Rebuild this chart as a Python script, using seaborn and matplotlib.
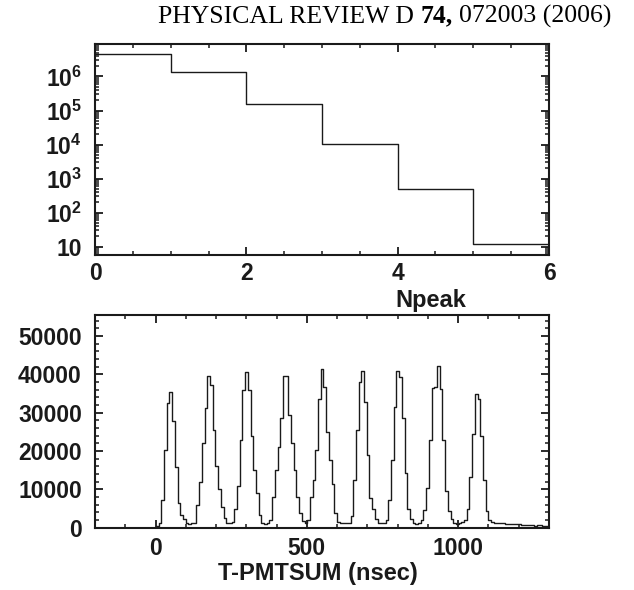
import numpy as np
import pandas as pd
import matplotlib
matplotlib.use("Agg")
import matplotlib.pyplot as plt
import seaborn as sns
from matplotlib.ticker import MultipleLocator, FixedLocator, LogLocator, FuncFormatter, NullFormatter

# ---------------- data ----------------
# top panel: number of peaks
npeak_edges = [0, 1, 2, 3, 4, 5, 6]
npeak_counts = [4.6e6, 1.31e6, 1.57e5, 1.07e4, 484, 11.8]

# bottom panel: T - PMTSUM timing histogram (nsec)
time_first_edge = -204.0
time_bin_width = 125.0 / 14.0
lead_counts = [0] * 23
pulse_1 = [400, 1150, 7200, 20300, 32600, 35500, 27900, 15900, 6500, 3300, 2200, 1150, 1000, 1150, 1300]
pulse_2 = [6000, 12000, 22000, 31200, 39500, 37200, 25500, 16000, 10000, 5500, 2500, 1300, 1150]
pulse_3 = [1500, 5000, 11000, 23000, 36000, 40600, 36000, 24000, 15000, 9000, 3300, 1200, 1000]
pulse_4 = [1100, 2000, 8100, 15000, 21000, 28500, 39600, 39600, 29400, 22000, 15000, 8100, 3900, 1800, 1200]
pulse_5 = [2000, 8100, 12500, 20300, 33500, 41400, 36700, 25000, 17700, 11400, 3800, 1600, 1150, 1100, 1200]
pulse_6 = [1200, 3000, 12400, 25500, 38100, 41000, 32900, 19000, 7700, 5000, 2400, 1150, 1100, 1200]
pulse_7 = [2000, 7200, 17700, 31600, 41000, 39400, 28500, 14200, 5000, 2400, 1150, 1000, 1100]
pulse_8 = [2000, 4500, 10300, 23000, 36500, 36600, 42300, 36300, 22900, 9600, 4400, 2400, 1200, 1000, 1100, 1500]
pulse_9 = [2000, 5000, 13200, 24500, 35000, 33700, 24000, 12500, 4300, 2000, 1500]
tail_counts = [1200, 1150, 1100, 1100, 1050, 1000, 1000, 950, 950, 900,
               650, 600, 620, 580, 600, 560, 600, 580, 550, 570, 560]

time_counts = (lead_counts + pulse_1 + pulse_2 + pulse_3 + pulse_4 + pulse_5
               + pulse_6 + pulse_7 + pulse_8 + pulse_9 + tail_counts)
time_edges = [float(time_first_edge + time_bin_width * k) for k in range(len(time_counts) + 1)]
time_centers = [0.5 * (a + b) for a, b in zip(time_edges[:-1], time_edges[1:])]

npeak_centers = [0.5 * (a + b) for a, b in zip(npeak_edges[:-1], npeak_edges[1:])]
df_npeak = pd.DataFrame({"Npeak": npeak_centers, "count": npeak_counts})
df_time = pd.DataFrame({"t": time_centers, "count": time_counts})

# ---------------- style ----------------
sns.set_theme(style="ticks")
INK = "#1a1a1a"
plt.rcParams.update({
    "font.family": ["Liberation Sans", "DejaVu Sans"],
    "font.weight": "bold",
    "mathtext.fontset": "custom",
    "mathtext.rm": "Liberation Sans:bold",
    "mathtext.bf": "Liberation Sans:bold",
    "mathtext.it": "Liberation Sans:bold",
    "mathtext.default": "rm",
    "axes.linewidth": 1.5,
    "axes.edgecolor": INK,
    "xtick.color": INK,
    "ytick.color": INK,
    "text.color": INK,
    "axes.labelcolor": INK,
})

W, H = 634, 590
fig = plt.figure(figsize=(W / 100, H / 100), dpi=100)
fig.patch.set_facecolor("white")
ax1 = fig.add_axes([95 / W, 1 - 255 / H, 454 / W, 211 / H])
ax2 = fig.add_axes([95 / W, 1 - 527.7 / H, 454 / W, 212.7 / H])

sns.histplot(data=df_npeak, x="Npeak", weights="count", bins=npeak_edges,
             element="step", fill=False, color=INK, linewidth=1.0, ax=ax1)
ax1.set_yscale("log")
ax1.set_xlim(0, 6)
ax1.set_ylim(5.7, 9.0e6)
ax1.xaxis.set_major_locator(FixedLocator([0, 2, 4, 6]))
ax1.xaxis.set_minor_locator(MultipleLocator(0.5))
ax1.yaxis.set_major_locator(FixedLocator([1e1, 1e2, 1e3, 1e4, 1e5, 1e6]))
ax1.yaxis.set_minor_locator(LogLocator(base=10, subs=range(2, 10), numticks=50))
ax1.yaxis.set_minor_formatter(NullFormatter())


def log_label(v, pos):
    e = int(round(np.log10(v)))
    return "10" if e == 1 else rf"$10^{{{e}}}$"


ax1.yaxis.set_major_formatter(FuncFormatter(log_label))
ax1.set_ylabel("")
ax1.set_xlabel("Npeak", fontsize=17, fontweight="bold")
ax1.xaxis.set_label_coords(0.74, -0.16)

sns.histplot(data=df_time, x="t", weights="count", bins=time_edges,
             element="step", fill=False, color=INK, linewidth=1.0, ax=ax2)
ax2.set_xlim(-200, 1300)
ax2.set_ylim(0, 55500)
ax2.xaxis.set_major_locator(FixedLocator([0, 500, 1000]))
ax2.xaxis.set_minor_locator(MultipleLocator(100))
ax2.yaxis.set_major_locator(MultipleLocator(10000))
ax2.yaxis.set_minor_locator(MultipleLocator(2000))
ax2.set_ylabel("")
ax2.set_xlabel("T-PMTSUM (nsec)", fontsize=17, fontweight="bold")
ax2.xaxis.set_label_coords(0.49, -0.163)

for ax in (ax1, ax2):
    ax.tick_params(which="both", direction="in", top=True, right=True,
                   labelsize=16.5, color=INK)
    ax.tick_params(which="major", length=6, width=1.3)
    ax.tick_params(which="minor", length=3, width=1.1)
    ax.tick_params(axis="y", pad=9.5)
    for lab in ax.get_xticklabels() + ax.get_yticklabels():
        lab.set_fontweight("bold")
ax1.tick_params(axis="x", pad=5)
ax2.tick_params(axis="x", pad=7)

# header line (journal reference), laid out left to right from x = 158 px
renderer = fig.canvas.get_renderer()
hdr_size = 18.5
parts = [("PHYSICAL REVIEW D", "normal"), ("74,", "bold"), ("072003 (2006)", "normal")]
x_left = 158.0
space_px = hdr_size * 100 / 72 * 0.25
y_base = 1 - 22.7 / H
for text, weight in parts:
    t = fig.text(x_left / W, y_base, text, ha="left", va="baseline",
                 fontsize=hdr_size, fontweight=weight,
                 family=["Liberation Serif", "DejaVu Serif"], color="black")
    bb = t.get_window_extent(renderer)
    x_left = bb.x1 + space_px

fig.savefig("out.png", dpi=100, facecolor="white")
